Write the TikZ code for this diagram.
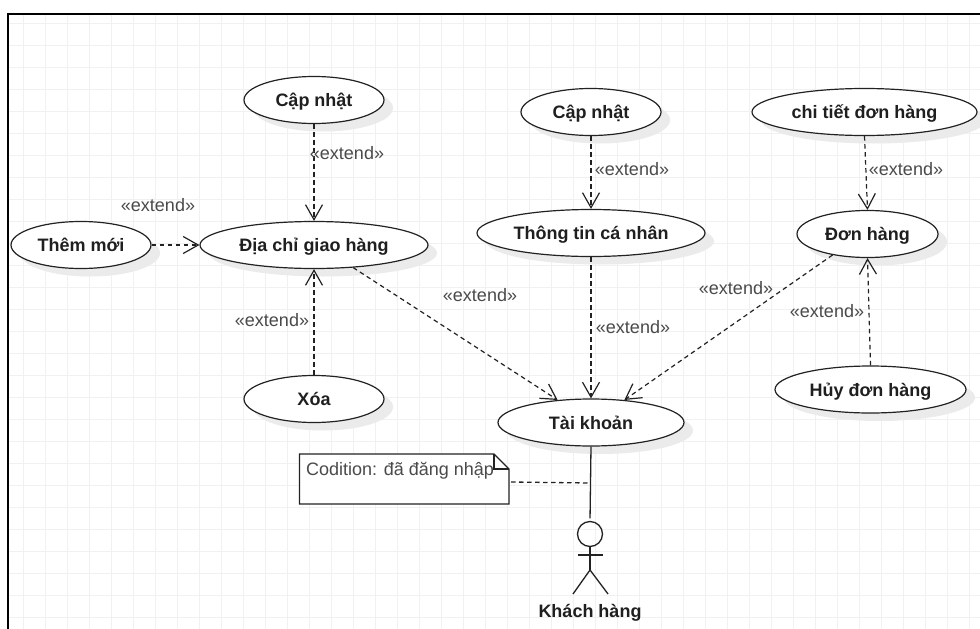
\documentclass[tikz,border=0pt]{standalone}
\usepackage{fontspec}
\setmainfont{Liberation Sans}
\usetikzlibrary{shapes.geometric,arrows.meta,shadows}
\definecolor{gridc}{HTML}{F1F1F1}
\definecolor{shadc}{HTML}{EBEBEB}
\definecolor{linec}{HTML}{222222}
\definecolor{labc}{HTML}{4A4A4A}
\tikzset{
  usecase/.style={ellipse,draw=linec,line width=1.2pt,fill=white,inner sep=0pt,
    minimum width=#1,minimum height=47pt,text height=13pt,text depth=0pt,
    font=\fontsize{18}{20}\selectfont\bfseries,text=black!88,
    general shadow={fill=shadc,shadow xshift=9pt,shadow yshift=-8pt}},
  ext/.style={draw=linec,line width=1.2pt,dash pattern=on 4.5pt off 3.5pt,
    -{Straight Barb[length=15pt,width=17pt,line width=1.2pt]}},
  lab/.style={font=\fontsize{18}{20}\selectfont,text=labc,inner sep=0pt},
  solidl/.style={draw=linec,line width=1.3pt},
}
\begin{document}
\begin{tikzpicture}[x=1pt,y=-1pt]
\useasboundingbox (0,0) rectangle (980,629);
\fill[white] (0,0) rectangle (980,629);
\foreach \k in {0,...,43}{\draw[gridc,line width=1pt] ({23+22*\k},14) -- ({23+22*\k},629);}
\foreach \k in {0,...,27}{\draw[gridc,line width=1pt] (8,{23+22*\k}) -- (980,{23+22*\k});}
\draw[black,line width=2pt] (7.5,629) -- (7.5,13.5) -- (980,13.5);

\node[usecase=140pt] (cn1) at (314,100) {Cập nhật};
\node[usecase=140pt] (them) at (81,245) {Thêm mới};
\node[usecase=228pt] (dc) at (314,245) {Địa chỉ giao hàng};
\node[usecase=140pt] (xoa) at (314,399) {Xóa};
\node[usecase=140pt] (cn2) at (591,112) {Cập nhật};
\node[usecase=228pt] (tt) at (591,233) {Thông tin cá nhân};
\node[usecase=225pt] (ct) at (864.5,112) {chi tiết đơn hàng};
\node[usecase=141pt] (dh) at (867.5,234) {Đơn hàng};
\node[usecase=191pt] (huy) at (870.5,389.5) {Hủy đơn hàng};
\node[usecase=186pt] (tk) at (591,422.5) {Tài khoản};

\draw[ext] (cn1.south) -- (dc.north);
\draw[ext] (them.east) -- (dc.west);
\draw[ext] (xoa.north) -- (dc.south);
\draw[ext] (cn2.south) -- (tt.north);
\draw[ext] (ct.south) -- (dh.north);
\draw[ext] (huy.north) -- (dh.south);
\draw[ext] (dc.-30) -- (tk.146);
\draw[ext] (tt.south) -- (tk.north);
\draw[ext] (dh.-149) -- (tk.34);

\node[lab] at (347,153) {«extend»};
\node[lab] at (158,205) {«extend»};
\node[lab] at (272,320) {«extend»};
\node[lab] at (632,169) {«extend»};
\node[lab] at (906,169) {«extend»};
\node[lab] at (480,295) {«extend»};
\node[lab] at (633,327) {«extend»};
\node[lab] at (736,288) {«extend»};
\node[lab] at (827,311) {«extend»};

\draw[solidl,fill=white] (299.5,454) -- (494,454) -- (509,469) -- (509,504) -- (299.5,504) -- cycle;
\draw[solidl] (494,454) -- (494,469) -- (509,469);
\node[lab,anchor=west] (notet) at (306,470.5) {Codition: đã đăng nhập};

\coordinate (nr) at (511,482);
\coordinate (stick) at (590,483);
\node[circle,draw=linec,line width=1.3pt,minimum size=25pt,inner sep=0pt] (head) at (590,534) {};
\draw[solidl,shorten >=2.5pt] (tk.south) -- (head.north);
\draw[solidl,dash pattern=on 4.5pt off 3.5pt] (nr) -- (stick);
\coordinate (hip) at (590,570);
\draw[solidl] (head.south) -- (hip);
\draw[solidl] (578,555) -- (603,555);
\draw[solidl] (573,594) -- (hip) -- (608,594);
\node[font=\fontsize{18}{20}\selectfont\bfseries,text=black!88,inner sep=0pt] (kh) at (590,613) {Khách hàng};
\end{tikzpicture}
\end{document}
